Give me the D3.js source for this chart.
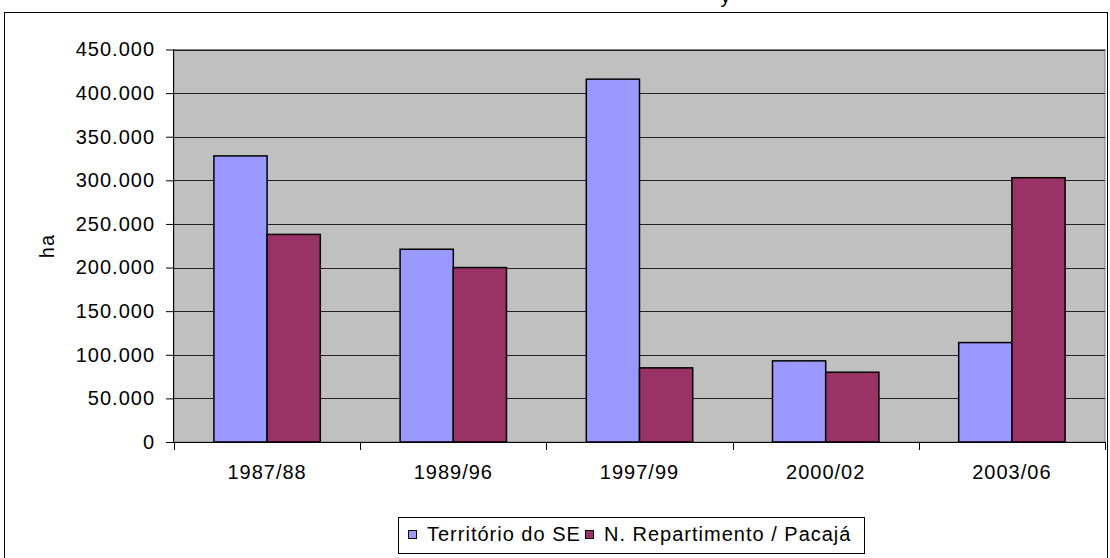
<!DOCTYPE html>
<html>
  <head>
    <meta charset="UTF-8" />
    <style>
      body {
        margin: 0;
        background: #fff;
      }
      svg {
        display: block;
        font-family: Arial, "Liberation Sans", sans-serif;
      }
      svg text {
        font-size: 20px;
        letter-spacing: 1px;
      }
    </style>
  </head>
  <body>
    <svg></svg>
    <script src="https://d3js.org/d3.v7.min.js"></script>
    <script>
      let width = 1110,
        height = 558;

      // data
      const periods = ["1987/88", "1989/96", "1997/99", "2000/02", "2003/06"];
      const seriesNames = ["Território do SE", "N. Repartimento / Pacajá"];
      const territorio = [328000, 221000, 416000, 93000, 114000];
      const repartimento = [238000, 200000, 85000, 80000, 303000];
      const yTicks = [0, 50000, 100000, 150000, 200000, 250000, 300000, 350000, 400000, 450000];
      const colors = ["#9999FF", "#993366"];

      let svg = d3.select("svg").attr("width", width).attr("height", height);

      // outer chart border
      svg
        .append("rect")
        .attr("x", 4.5)
        .attr("y", 12.5)
        .attr("width", 1103)
        .attr("height", 560)
        .attr("fill", "#fff")
        .attr("stroke", "#000");

      // title, mostly above the visible area
      svg
        .append("text")
        .attr("x", 726)
        .attr("y", 3)
        .attr("text-anchor", "middle")
        .text("y");

      const plot = { left: 174, right: 1105, top: 49.5, bottom: 442 };

      const x = d3
        .scaleBand()
        .domain(periods)
        .range([plot.left, plot.right]);

      // gap width 75%: the pair of bars takes 1/1.75 of a category
      const x1 = d3
        .scaleBand()
        .domain(seriesNames)
        .range([0, x.bandwidth() / 1.75]);

      const y = d3
        .scaleLinear()
        .domain([0, 450000])
        .range([plot.bottom, plot.top]);

      // plot background
      svg
        .append("rect")
        .attr("x", plot.left)
        .attr("y", plot.top)
        .attr("width", plot.right - plot.left)
        .attr("height", plot.bottom - plot.top)
        .attr("fill", "#C0C0C0")
        .attr("stroke", "#808080")
        .attr("stroke-width", 1);

      // gridlines
      svg
        .append("g")
        .selectAll("line")
        .data(yTicks.filter((d) => d > 0))
        .enter()
        .append("line")
        .attr("x1", plot.left)
        .attr("x2", plot.right)
        .attr("y1", (d) => Math.round(y(d)) + 0.5)
        .attr("y2", (d) => Math.round(y(d)) + 0.5)
        .attr("stroke", "#222")
        .attr("stroke-width", 1);

      // bars
      const rows = periods.map((p, i) => ({
        period: p,
        values: [territorio[i], repartimento[i]],
      }));

      const offset = (x.bandwidth() - x1.range()[1]) / 2;

      svg
        .append("g")
        .selectAll("g")
        .data(rows)
        .enter()
        .append("g")
        .attr("transform", (d) => "translate(" + (x(d.period) + offset) + ",0)")
        .selectAll("rect")
        .data((d) => d.values.map((v, j) => ({ name: seriesNames[j], value: v, j: j })))
        .enter()
        .append("rect")
        .attr("x", (d) => x1(d.name))
        .attr("y", (d) => y(d.value))
        .attr("width", x1.bandwidth())
        .attr("height", (d) => y(0) - y(d.value))
        .attr("fill", (d) => colors[d.j])
        .attr("stroke", "#000")
        .attr("stroke-width", 1.5);

      // y axis
      let yAxis = svg
        .append("g")
        .attr("transform", "translate(" + plot.left + ",0)")
        .call(
          d3
            .axisLeft(y)
            .tickValues(yTicks)
            .tickSize(8)
            .tickPadding(11)
            .tickFormat((d) => (d === 0 ? "0" : d3.format(",")(d).replace(/,/g, ".")))
        );
      yAxis.attr("font-size", null).attr("font-family", null);
      yAxis.select(".domain").attr("stroke", "#000").attr("d", "M-0.5," + plot.top + "V" + (plot.bottom + 0.5));
      yAxis.selectAll("line").attr("stroke", "#000");
      yAxis.selectAll("text").attr("fill", "#000");

      // x axis
      let xAxis = svg
        .append("g")
        .attr("transform", "translate(0," + plot.bottom + ")");
      xAxis
        .append("line")
        .attr("x1", plot.left - 8)
        .attr("x2", plot.right)
        .attr("y1", 0.5)
        .attr("y2", 0.5)
        .attr("stroke", "#000");
      xAxis
        .selectAll("line.tick")
        .data(periods.concat(["end"]))
        .enter()
        .append("line")
        .attr("class", "tick")
        .attr("x1", (d, i) => Math.round(plot.left + i * x.step()) + 0.5)
        .attr("x2", (d, i) => Math.round(plot.left + i * x.step()) + 0.5)
        .attr("y1", 0)
        .attr("y2", 8)
        .attr("stroke", "#000");
      xAxis
        .selectAll("text")
        .data(periods)
        .enter()
        .append("text")
        .attr("x", (d) => x(d) + x.bandwidth() / 2)
        .attr("y", 37)
        .attr("text-anchor", "middle")
        .text((d) => d);

      // y axis title
      svg
        .append("text")
        .attr("transform", "translate(54,246) rotate(-90)")
        .attr("text-anchor", "middle")
        .text("ha");

      // legend
      let legend = svg.append("g").attr("id", "legend");
      legend
        .append("rect")
        .attr("x", 398.5)
        .attr("y", 517.5)
        .attr("width", 466)
        .attr("height", 36)
        .attr("fill", "#fff")
        .attr("stroke", "#000");

      const legendX = [408, 585];
      legend
        .selectAll("rect.sw")
        .data(seriesNames)
        .enter()
        .append("rect")
        .attr("class", "sw")
        .attr("x", (d, i) => legendX[i] + 0.5)
        .attr("y", 530.5)
        .attr("width", 8)
        .attr("height", 8)
        .attr("fill", (d, i) => colors[i])
        .attr("stroke", "#000");

      legend
        .selectAll("text.lab")
        .data(seriesNames)
        .enter()
        .append("text")
        .attr("class", "lab")
        .attr("x", (d, i) => legendX[i] + 19)
        .attr("y", 541)
        .text((d) => d);
    </script>
  </body>
</html>
